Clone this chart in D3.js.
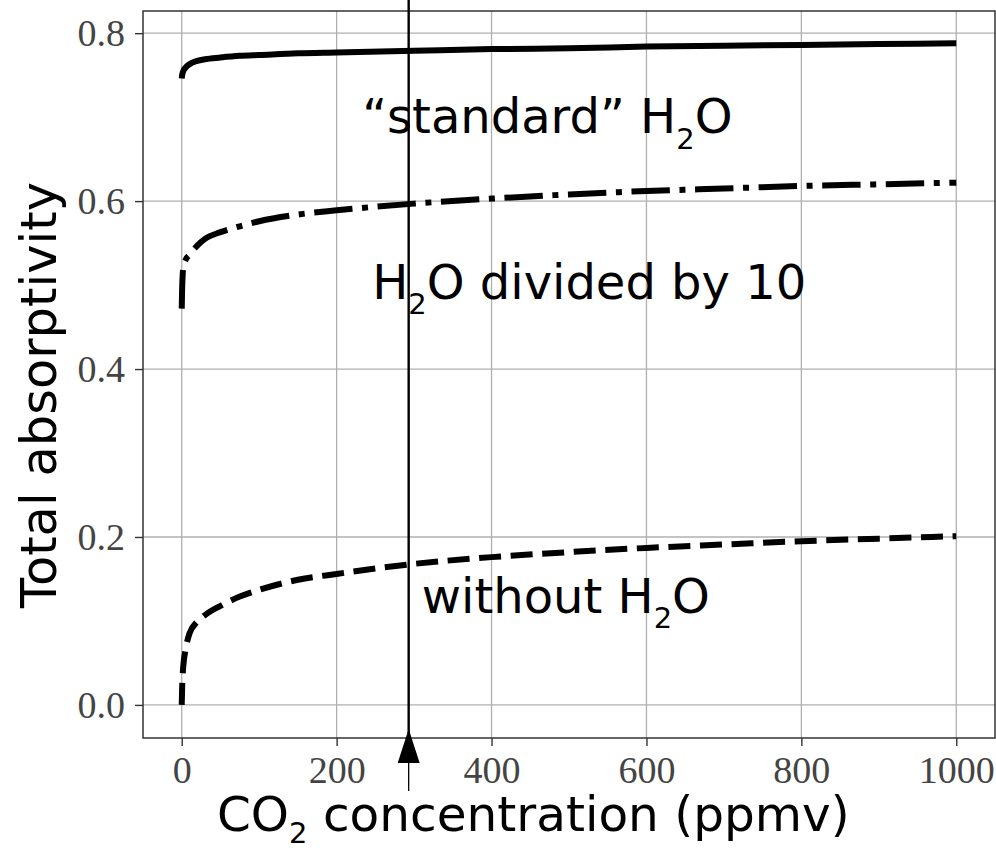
<!DOCTYPE html>
<html>
<head>
<meta charset="utf-8">
<script src="https://cdn.jsdelivr.net/npm/d3@7"></script>
<style>
  body { margin: 0; background: #fff; }
</style>
</head>
<body>
<div id="chart"></div>
<script>
// CO2 concentration (ppmv)
const ppm = [0, 0.5, 1, 2, 5, 10, 20, 30, 50, 75, 100, 150, 200, 300, 400, 500, 600, 700, 800, 900, 1000];
// total absorptivity for each case
const standardH2O = [0.746, 0.750, 0.752, 0.755, 0.759, 0.763, 0.767, 0.769, 0.771, 0.773, 0.774, 0.776, 0.777, 0.779, 0.781, 0.782, 0.784, 0.785, 0.786, 0.787, 0.788];
const tenthH2O    = [0.472, 0.495, 0.508, 0.521, 0.530, 0.536, 0.547, 0.555, 0.563, 0.570, 0.576, 0.584, 0.589, 0.597, 0.603, 0.608, 0.612, 0.615, 0.618, 0.620, 0.622];
const noH2O       = [0.000, 0.020, 0.032, 0.046, 0.066, 0.085, 0.099, 0.107, 0.118, 0.129, 0.137, 0.149, 0.156, 0.168, 0.176, 0.182, 0.187, 0.191, 0.195, 0.198, 0.201];

const xTicks = [0, 200, 400, 600, 800, 1000];
const yTicks = [0.0, 0.2, 0.4, 0.6, 0.8];
const marker = 293; // vertical reference line (ppmv)

// annotation texts: [before subscript, subscript, after], anchored in data units
const notes = [
  { parts: ["\u201Cstandard\u201D H", "2", "O"], x: 233, y: 0.681 },
  { parts: ["H", "2", "O divided by 10"], x: 246, y: 0.484 },
  { parts: ["without H", "2", "O"], x: 310, y: 0.110 }
];

const width = 996, height = 848;
const margin = { top: 11, right: 1, bottom: 110, left: 143 };

const svg = d3.select("#chart").append("svg")
  .attr("width", width)
  .attr("height", height)
  .attr("viewBox", [0, 0, width, height]);

const x = d3.scaleLinear().domain([-50, 1050]).range([margin.left, width - margin.right]);
const y = d3.scaleLinear().domain([-0.0394, 0.8264]).range([height - margin.bottom, margin.top]);

const x0 = x.range()[0], x1 = x.range()[1];
const yB = y.range()[0], yT = y.range()[1];

// grid
svg.append("g")
  .attr("stroke", "#b0b0b0")
  .attr("stroke-width", 1.3)
  .call(g => g.selectAll(".vx").data(xTicks).join("line")
    .attr("x1", d => x(d)).attr("x2", d => x(d))
    .attr("y1", yT).attr("y2", yB))
  .call(g => g.selectAll(".hy").data(yTicks).join("line")
    .attr("x1", x0).attr("x2", x1)
    .attr("y1", d => y(d)).attr("y2", d => y(d)));

// axes
const tickFont = "'Liberation Serif', 'DejaVu Serif', serif";

const xAxis = svg.append("g")
  .attr("transform", `translate(0,${yB})`)
  .call(d3.axisBottom(x).tickValues(xTicks).tickSize(8).tickPadding(9).tickFormat(d3.format("d")));

const yAxis = svg.append("g")
  .attr("transform", `translate(${x0},0)`)
  .call(d3.axisLeft(y).tickValues(yTicks).tickSize(8).tickPadding(10).tickFormat(d3.format(".1f")));

[xAxis, yAxis].forEach(a => {
  a.select(".domain").remove();
  a.selectAll(".tick line").attr("stroke", "#333").attr("stroke-width", 1.4);
  a.selectAll(".tick text")
    .attr("fill", "#444")
    .style("font-family", tickFont)
    .style("font-size", "38px");
});
xAxis.selectAll(".tick text").attr("dy", "0.74em");
yAxis.selectAll(".tick text").attr("dy", "0.33em");

// frame
svg.append("rect")
  .attr("x", x0).attr("y", yT)
  .attr("width", x1 - x0).attr("height", yB - yT)
  .attr("fill", "none")
  .attr("stroke", "#333")
  .attr("stroke-width", 1.5);

// curves
const line = d3.line()
  .x((d, i) => x(ppm[i]))
  .y(d => y(d))
  .curve(d3.curveMonotoneX);

const series = [
  { values: standardH2O, dash: null },
  { values: tenthH2O, dash: "38.4,9.6,6,9.6" },
  { values: noH2O, dash: "22,9.6" }
];

svg.append("g")
  .selectAll("path")
  .data(series)
  .join("path")
  .attr("d", d => line(d.values))
  .attr("fill", "none")
  .attr("stroke", "#000")
  .attr("stroke-width", 6)
  .attr("stroke-dasharray", d => d.dash);

// vertical marker with arrow
const mx = x(marker);
const tip = yB - 9, base = yB + 25, tail = yB + 53;
svg.append("line")
  .attr("x1", mx).attr("x2", mx)
  .attr("y1", 0).attr("y2", tip + 4)
  .attr("stroke", "#000").attr("stroke-width", 2.4);
svg.append("path")
  .attr("d", `M${mx},${tip}L${mx + 11},${base}L${mx - 11},${base}Z`)
  .attr("fill", "#000");
svg.append("line")
  .attr("x1", mx).attr("x2", mx)
  .attr("y1", base).attr("y2", tail)
  .attr("stroke", "#000").attr("stroke-width", 1.3);

// text with subscript
const sans = "'DejaVu Sans', sans-serif";
function subText(sel, parts, size, drop = 0.33) {
  sel.style("font-family", sans).style("font-size", size + "px").attr("fill", "#000");
  sel.append("tspan").text(parts[0]);
  sel.append("tspan").text(parts[1])
    .style("font-size", Math.round(size * 0.6) + "px")
    .attr("dy", size * drop);
  sel.append("tspan").text(parts[2])
    .attr("dy", -size * drop);
}

notes.forEach(n => {
  svg.append("text")
    .attr("x", x(n.x)).attr("y", y(n.y))
    .call(subText, n.parts, 48);
});

// axis labels
svg.append("text")
  .attr("x", 217).attr("y", 831)
  .call(subText, ["CO", "2", " concentration (ppmv)"], 48.5, 0.24);

svg.append("text")
  .attr("transform", "translate(56,395) rotate(-90)")
  .attr("text-anchor", "middle")
  .style("font-family", sans)
  .style("font-size", "49.5px")
  .text("Total absorptivity");
</script>
</body>
</html>
